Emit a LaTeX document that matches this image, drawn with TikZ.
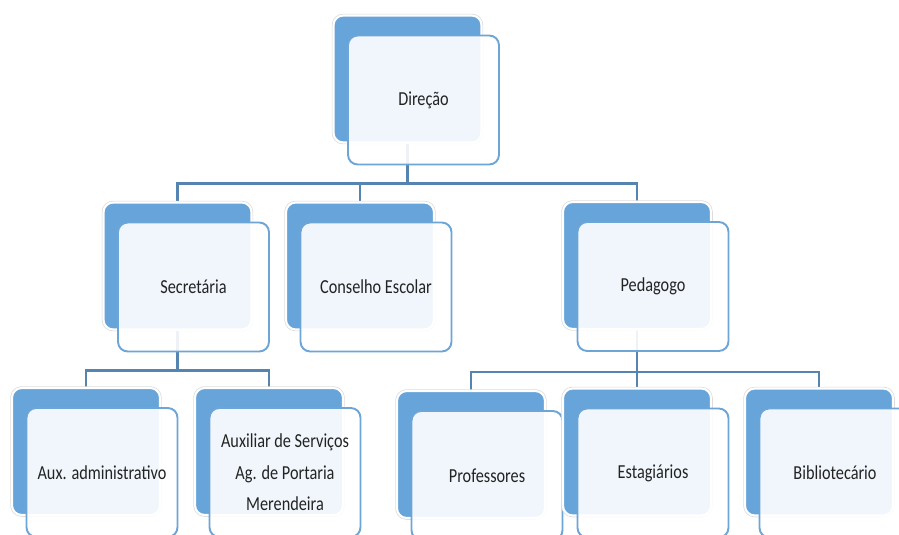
\documentclass[tikz,border=0pt]{standalone}
\usepackage{fontspec}
\newfontfamily\boxfont[FakeStretch=0.82]{Carlito}
\usetikzlibrary{backgrounds}
\definecolor{tileblue}{RGB}{102,164,217}
\definecolor{edgeblue}{RGB}{110,165,215}
\definecolor{linkblue}{RGB}{86,132,176}
\definecolor{txtgray}{RGB}{35,35,35}

\begin{document}
\begin{tikzpicture}[x=0.02cm, y=-0.02cm,
  back/.style={rectangle, rounded corners=5.5pt, fill=tileblue, draw=white, line width=1.2pt,
    preaction={draw=black!15, line width=2pt},
    minimum width=2.96cm, minimum height=2.54cm, inner sep=0pt},
  front/.style={rectangle, rounded corners=5.5pt, fill=white, fill opacity=0.9, text opacity=1,
    draw=edgeblue, line width=1.1pt, minimum width=3.02cm, minimum height=2.58cm,
    align=center, text=txtgray, font=\boxfont\fontsize{11.3}{18}\selectfont},
  link/.style={draw=linkblue, line width=1.4pt}
]
\useasboundingbox (0,0) rectangle (899,534);
\clip (0,0) rectangle (899,534);

% Top
\node[back] (dir) at (407.5,79) {};
\node[front] (dirf) at ([shift={(16,21)}]dir) {Direção};

% Second row
\node[back] (sec) at (177.5,266) {};
\node[front] (secf) at ([shift={(16,21)}]sec) {Secretária};

\node[back] (cons) at (360,266) {};
\node[front] (consf) at ([shift={(16,21)}]cons) {Conselho Escolar};

\node[back] (ped) at (637,265.5) {};
\node[front] (pedf) at ([shift={(16,21)}]ped) {Pedagogo};

% Third row, under Secretária
\node[back] (aux) at (86,451.5) {};
\node[front] (auxf) at ([shift={(16,21)}]aux) {Aux. administrativo};

\node[back] (serv) at (269,451.5) {};
\node[front] (servf) at ([shift={(16,21)}]serv) {Auxiliar de Serviços\\Ag. de Portaria\\Merendeira};

% Third row, under Pedagogo
\node[back] (prof) at (471,454.5) {};
\node[front] (proff) at ([shift={(16,21)}]prof) {Professores};

\node[back] (est) at (637,452) {};
\node[front] (estf) at ([shift={(16,21)}]est) {Estagiários};

\node[back] (bib) at (819,452) {};
\node[front] (bibf) at ([shift={(16,21)}]bib) {Bibliotecário};

% Connectors
\begin{scope}[on background layer]
\draw[link] (dir.south) -- ++(0,40) coordinate (j1);
\draw[link] (j1) -| (sec.north);
\draw[link] (j1) -| (cons.north);
\draw[link] (j1) -| (ped.north);

\draw[link] (sec.south) -- ++(0,40) coordinate (j2);
\draw[link] (j2) -| (aux.north);
\draw[link] (j2) -| (serv.north);

\draw[link] (ped.south) -- ++(0,42) coordinate (j3);
\draw[link] (j3) -| (prof.north);
\draw[link] (j3) -| (est.north);
\draw[link] (j3) -| (bib.north);
\end{scope}

\end{tikzpicture}
\end{document}
